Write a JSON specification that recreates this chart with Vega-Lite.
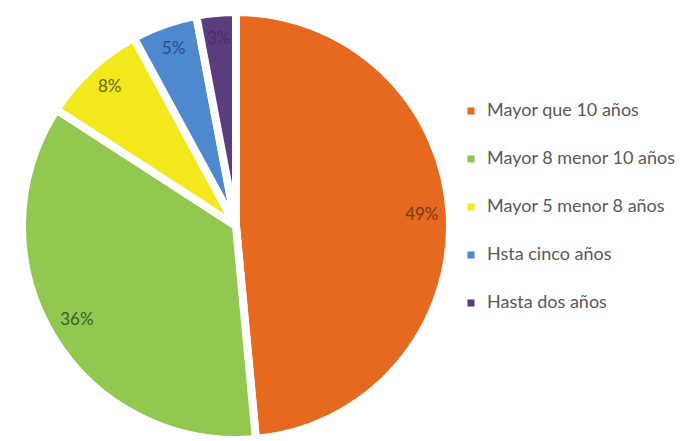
{
  "$schema": "https://vega.github.io/schema/vega-lite/v6.json",
  "width": 472,
  "height": 440,
  "padding": {"left": 0, "top": 6, "right": 209, "bottom": 0},
  "autosize": "none",
  "background": "white",
  "data": {"values": [
    {"cat": "Mayor que 10 años", "valor": 49, "orden": 1, "label": "49%"},
    {"cat": "Mayor 8 menor 10 años", "valor": 36, "orden": 2, "label": "36%"},
    {"cat": "Mayor 5 menor 8 años", "valor": 8, "orden": 3, "label": "8%"},
    {"cat": "Hsta cinco años", "valor": 5, "orden": 4, "label": "5%"},
    {"cat": "Hasta dos años", "valor": 3, "orden": 5, "label": "3%"}
  ]},
  "encoding": {
    "theta": {"field": "valor", "type": "quantitative", "stack": true},
    "order": {"field": "orden", "type": "quantitative"}
  },
  "layer": [
    {
      "mark": {"type": "arc", "outerRadius": 214, "stroke": "white", "strokeWidth": 8},
      "encoding": {
        "color": {
          "field": "cat", "type": "nominal",
          "scale": {
            "domain": ["Mayor que 10 años", "Mayor 8 menor 10 años", "Mayor 5 menor 8 años", "Hsta cinco años", "Hasta dos años"],
            "range": ["#E56A1F", "#92C84F", "#F3E81B", "#4E88CF", "#5D3C7D"]
          },
          "legend": {
            "orient": "none", "legendX": 462, "legendY": 96,
            "title": null, "symbolType": "square", "symbolSize": 50,
            "symbolStrokeWidth": 0,
            "labelFont": "Lato", "labelFontSize": 18, "labelColor": "#595959",
            "labelLimit": 300, "rowPadding": 30, "labelOffset": 7
          }
        }
      }
    },
    {
      "mark": {"type": "text", "radius": 186, "font": "Lato", "fontSize": 17, "dy": -2},
      "encoding": {
        "text": {"field": "label"},
        "color": {
          "field": "cat", "type": "nominal",
          "scale": {
            "domain": ["Mayor que 10 años", "Mayor 8 menor 10 años", "Mayor 5 menor 8 años", "Hsta cinco años", "Hasta dos años"],
            "range": ["#7A3A14", "#3E5A2C", "#6A6520", "#2B4E7E", "#4A2C62"]
          },
          "legend": null
        }
      }
    }
  ],
  "resolve": {"scale": {"color": "independent"}},
  "config": {"view": {"stroke": null}}
}
